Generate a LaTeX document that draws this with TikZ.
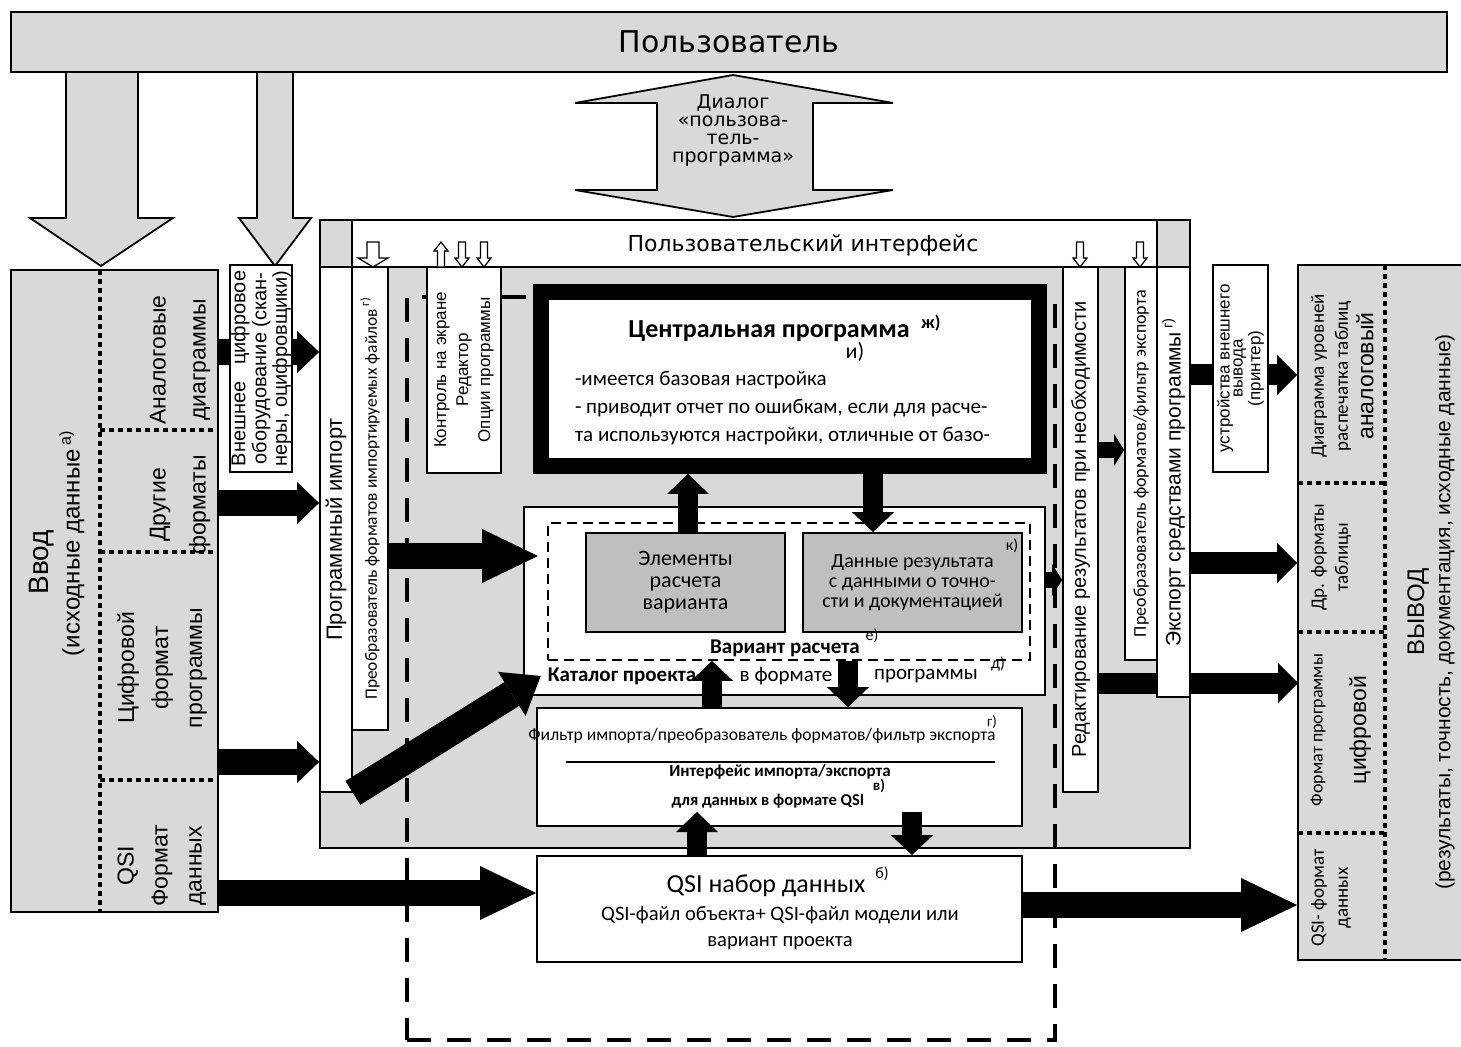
\documentclass[tikz,border=0pt]{standalone}
\usepackage{fontspec}
\setmainfont{Liberation Sans}
\newfontfamily\calfont{Carlito}
\newfontfamily\dvfont{DejaVu Sans}
\usetikzlibrary{arrows.meta,
                fit}

\tikzset{
  box/.style = {draw, line width=0.9pt, inner sep=0pt},
  lightbox/.style = {box, fill=gray!30},
  whitebox/.style = {box, fill=white},
  darkbox/.style = {box, fill=gray!50},
  lightarrow/.style = {draw, line width=0.9pt, fill=gray!30},
  whitearrow/.style = {draw, line width=0.6pt, fill=white},
  sep/.style = {line width=2pt, dash pattern=on 2.5pt off 2pt},
  vtext/.style = {rotate=90, align=center, inner sep=0pt},
  fat/.style = {line width=13pt, -{Triangle[length=11pt, width=21pt, line width=0pt]}},
  fatlong/.style = {line width=13pt, -{Triangle[length=28pt, width=27pt, line width=0pt]}},
  mid/.style = {line width=10.5pt, -{Triangle[length=10pt, width=20pt, line width=0pt]}},
  vert/.style = {line width=10pt, -{Triangle[length=10pt, width=21pt, line width=0pt]}},
  thin/.style = {line width=8pt, -{Triangle[length=5pt, width=16pt, line width=0pt]}}
}

\newcommand{\hollowdown}[3]{%
  \draw[whitearrow] (#1-#2,242) -- (#1-#2,258) -- (#1-#3,258) -- (#1,267) -- (#1+#3,258) -- (#1+#2,258) -- (#1+#2,242) -- cycle;}
\newcommand{\hollowup}[3]{%
  \draw[whitearrow] (#1-#2,267) -- (#1-#2,251) -- (#1-#3,251) -- (#1,242) -- (#1+#3,251) -- (#1+#2,251) -- (#1+#2,267) -- cycle;}

\begin{document}
\begin{tikzpicture}[x=0.5pt, y=-0.5pt]
  \useasboundingbox (0,0) rectangle (1461,1047);
  \clip (0,0) rectangle (1461,1047);

  % user
  \node[lightbox, fit={(11,12) (1447,72)}] (user) {};
  \node[font=\dvfont\fontsize{15}{18}\selectfont] at (user) {Пользователь};

  \draw[lightarrow] (66,72) -- (66,218) -- (30,218) -- (101,266) -- (173,218) -- (138,218) -- (138,72) -- cycle;
  \draw[lightarrow] (257,72) -- (257,218) -- (239,218) -- (275,266) -- (311,218) -- (293,218) -- (293,72) -- cycle;

  % dialog arrow
  \draw[lightarrow] (733,75) -- (893,103) -- (813,103) -- (813,190) -- (893,190) -- (733,217)
    -- (575,190) -- (657,190) -- (657,103) -- (575,103) -- cycle;
  \node[font=\dvfont\fontsize{9.5}{9}\selectfont, align=center] (dlg) at (733,131) {Диалог\\«пользова-\\тель-\\программа»};

  % input
  \node[lightbox, fit={(11,270) (218,912)}] (vvod) {};
  \draw[sep] (100,270) -- (100,912);
  \foreach \y in {430,552,780}
    \draw[sep] (100,\y) -- (218,\y);
  \node[vtext, font=\fontsize{14}{16}\selectfont] (vvodt) at (42,562) {Ввод};
  \node[vtext, font=\fontsize{12}{14}\selectfont] (srct) at (72,543) {(исходные данные\,\textsuperscript{а)}};
  \node[vtext, font=\fontsize{11.5}{20}\selectfont] (analog) at (180,360) {Аналоговые\\диаграммы};
  \node[vtext, font=\fontsize{11.5}{20}\selectfont] (other) at (180,505) {Другие\\форматы};
  \node[vtext, font=\fontsize{11.5}{17}\selectfont] (digi) at (162,668) {Цифровой\\формат\\программы};
  \node[vtext, font=\fontsize{11.5}{17}\selectfont] (qsiin) at (162,866) {QSI\\Формат\\данных};

  % interface
  \node[lightbox, fit={(320,220) (1190,848)}] (ui) {};
  \node[whitebox, fit={(352,220) (1157,267)}] (uibar) {};
  \node[font=\dvfont\fontsize{11}{13}\selectfont] (uit) at (803,245) {Пользовательский интерфейс};

  \node[draw, line width=2pt, dash pattern=on 12pt off 8pt, inner sep=0pt, fit={(407,297) (1055,1040)}] (prog) {};

  \node[whitebox, fit={(320,267) (352,792)}] (imp) {};
  \node[vtext, font=\fontsize{11}{13}\selectfont] at (imp) {Программный импорт};
  \node[whitebox, fit={(352,267) (388,730)}] (conv) {};
  \node[vtext, font=\calfont\fontsize{8.7}{10}\selectfont] at (conv) {Преобразователь форматов импортируемых файлов\,\textsuperscript{г)}};
  \node[whitebox, fit={(427,267) (501,473)}] (ctrl) {};
  \node[vtext, font=\fontsize{8.5}{11}\selectfont] at (ctrl) {Контроль на экране\\Редактор\\Опции программы};

  \hollowdown{373}{6}{15}
  \hollowup{441}{3.5}{7}
  \hollowdown{462}{3.5}{7}
  \hollowdown{484}{3.5}{7}
  \hollowdown{1080}{3.5}{7}
  \hollowdown{1140}{3.5}{7}

  % right columns
  \coordinate (r9) at (0,683);
  \node[whitebox, fit={(1063,267) (1098,792)}] (edit) {};
  \node[coordinate] (outin) at (1298,683) {};
  \draw[mid] (edit.east |- r9) -- (outin);
  \node[vtext, font=\fontsize{10}{12}\selectfont] at (edit) {Редактирование результатов при необходимости};
  \node[whitebox, fit={(1125,267) (1157,660)}] (expconv) {};
  \node[vtext, font=\calfont\fontsize{9}{11}\selectfont] at (expconv) {Преобразователь форматов/фильтр экспорта};
  \node[whitebox, fit={(1157,267) (1190,697)}] (exp) {};
  \node[vtext, font=\fontsize{10.5}{12}\selectfont] at (exp) {Экспорт средствами программы\,\textsuperscript{г)}};

  % central program
  \node[draw, fill=white, line width=8pt, inner sep=0pt, fit={(541,292) (1039,466)}] (central) {};
  \node[font=\calfont\bfseries\fontsize{13}{15}\selectfont] (ctitle) at (785,328) {Центральная программа\ \ \textsuperscript{ж)}};
  \node[font=\calfont\fontsize{10.5}{14}\selectfont, anchor=west, align=left] (cbody) at (568,408)
    {-имеется базовая настройка\\- приводит отчет по ошибкам, если для расче-\\та используются настройки, отличные от базо-};
  \node[font=\calfont\fontsize{11}{13}\selectfont] at (855,352) {и)};

  % project catalogue
  \node[whitebox, fit={(524,507) (1045,695)}] (cat) {};
  \node[draw, line width=0.9pt, dash pattern=on 5pt off 3pt, inner sep=0pt, fit={(548,523) (1030,660)}] (variant) {};
  \node[darkbox, fit={(586,533) (785,632)}] (elem) {};
  \node[font=\calfont\fontsize{11}{11}\selectfont, align=center] at (elem) {Элементы\\расчета\\варианта};
  \node[darkbox, fit={(803,533) (1022,632)}] (res) {};
  \node[font=\calfont\fontsize{10}{10}\selectfont, align=center] at (res) {Данные результата\\с данными о точно-\\сти и документацией};
  \node[font=\calfont\fontsize{8}{9}\selectfont] at (1012,546) {к)};
  \node[font=\calfont\bfseries\fontsize{10.5}{12}\selectfont] (vart) at (785,648) {Вариант расчета};
  \node[font=\calfont\fontsize{8}{9}\selectfont] at (872,636) {е)};
  \node[font=\calfont\bfseries\fontsize{10.5}{12}\selectfont] (kat) at (622,676) {Каталог проекта};
  \node[font=\calfont\fontsize{10.5}{12}\selectfont] at (786,676) {в формате};
  \node[font=\calfont\fontsize{10.5}{12}\selectfont] at (926,676) {программы};
  \node[font=\calfont\fontsize{8}{9}\selectfont] at (998,664) {д)};

  % filter
  \node[whitebox, fit={(537,708) (1022,826)}] (filt) {};
  \node[font=\calfont\fontsize{8.8}{10}\selectfont] at (762,736) {Фильтр импорта/преобразователь форматов/фильтр экспорта};
  \node[font=\calfont\fontsize{7.5}{9}\selectfont] at (992,722) {г)};
  \draw[line width=0.6pt] (566,762) -- (995,762);
  \node[font=\calfont\bfseries\fontsize{8.5}{10}\selectfont] at (780,772) {Интерфейс импорта/экспорта};
  \node[font=\calfont\bfseries\fontsize{7.5}{9}\selectfont] at (879,786) {в)};
  \node[font=\calfont\bfseries\fontsize{8.3}{10}\selectfont] at (768,801) {для данных в формате QSI};

  % QSI data set
  \node[whitebox, fit={(537,856) (1022,962)}] (qsi) {};
  \node[font=\calfont\fontsize{13}{15}\selectfont] at (766,886) {QSI набор данных};
  \node[font=\calfont\fontsize{8}{9}\selectfont] at (882,874) {б)};
  \node[font=\calfont\fontsize{10.3}{13}\selectfont, align=center] at (780,928) {QSI-файл объекта+ QSI-файл модели или\\вариант проекта};

  % output
  \node[lightbox, fit={(1298,265) (1475,960)}] (out) {};
  \draw[sep] (1385,265) -- (1385,960);
  \foreach \y in {483,632,833}
    \draw[sep] (1298,\y) -- (1385,\y);
  \node[vtext, font=\calfont\fontsize{9.5}{12}\selectfont] at (1331,376) {Диаграмма уровней\\распечатка таблиц};
  \node[vtext, font=\fontsize{11.5}{13}\selectfont] at (1365,376) {аналоговый};
  \node[vtext, font=\calfont\fontsize{9.5}{12}\selectfont] at (1331,557) {Др. форматы\\таблицы};
  \node[vtext, font=\calfont\fontsize{9}{12}\selectfont] at (1318,730) {Формат программы};
  \node[vtext, font=\fontsize{11.5}{13}\selectfont] at (1360,730) {цифровой};
  \node[vtext, font=\calfont\fontsize{9.5}{12}\selectfont] at (1331,898) {QSI- формат\\данных};
  \node[vtext, font=\fontsize{12}{14}\selectfont] (outt) at (1418,612) {ВЫВОД};
  \node[vtext, font=\fontsize{10.5}{13}\selectfont] at (1445,612) {(результаты, точность, документация, исходные данные)};

  % arrows
  \coordinate (r1) at (0,352);
  \coordinate (r2) at (0,503);
  \coordinate (r3) at (0,762);
  \coordinate (r4) at (0,893);
  \coordinate (r5) at (0,556);
  \coordinate (r6) at (0,450);
  \coordinate (r7) at (0,580);
  \coordinate (r8) at (0,375);
  \coordinate (r10) at (0,905);
  \coordinate (rr) at (0,563);
  \coordinate (cattip) at (538,556);
  \draw[fat] (vvod.east |- r1) -- (imp.west |- r1);
  \draw[fat] (vvod.east |- r2) -- (imp.west |- r2);
  \draw[fat] (vvod.east |- r3) -- (imp.west |- r3);
  \draw[fatlong] (vvod.east |- r4) -- (qsi.west |- r4);
  \draw[fatlong] (conv.east |- r5) -- (cattip);
  \draw[line width=14pt, -{Triangle[length=17pt, width=26pt, line width=0pt]}] (imp.south east) -- (kat.west);
  \draw[thin] (edit.east |- r6) -- (expconv.west |- r6);
  \draw[thin] (cat.east |- r7) -- (edit.west |- r7);
  \draw[mid] (exp.east |- r8) -- (out.west |- r8);
  \draw[mid] (exp.east |- rr) -- (out.west |- rr);
  \draw[fatlong] (qsi.east |- r10) -- (out.west |- r10);

  \coordinate (c1) at (688,0);
  \coordinate (c2) at (873,0);
  \coordinate (c3) at (712,0);
  \coordinate (c4) at (848,0);
  \coordinate (t5) at (697,812);
  \coordinate (s6) at (912,812);
  \draw[vert] (elem.north -| c1) -- (central.south -| c1);
  \draw[vert] (central.south -| c2) -- (res.north -| c2);
  \draw[vert] (filt.north -| c3) -- (variant.south -| c3);
  \draw[vert] (variant.south -| c4) -- (filt.north -| c4);
  \draw[vert] (qsi.north -| t5) -- (t5);
  \draw[vert] (s6) -- (qsi.north -| s6);

  % boxes over the arrows
  \node[whitebox, fit={(230,265) (292,472)}] (ext) {};
  \node[vtext, font=\fontsize{10}{7}\selectfont] at (ext) {Внешнее\ \ \ цифровое\\оборудование (скан-\\неры, оцифровщики)};
  \node[whitebox, fit={(1213,265) (1268,472)}] (dev) {};
  \node[vtext, font=\fontsize{8.5}{6.5}\selectfont] at (dev) {устройства внешнего\\вывода\\(принтер)};
\end{tikzpicture}
\end{document}
